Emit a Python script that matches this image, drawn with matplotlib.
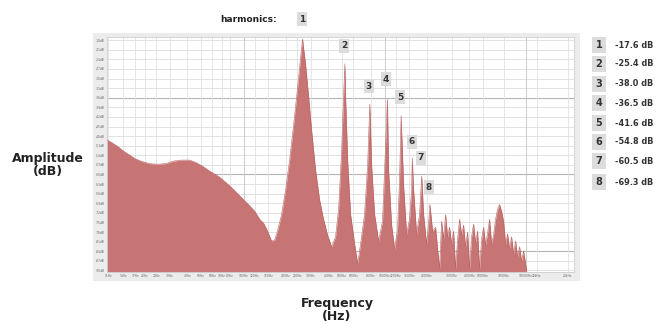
import matplotlib
matplotlib.use("Agg")
import matplotlib.pyplot as plt
from matplotlib.patches import Rectangle

# ---- data ----
freq_hz = [10.7, 11.6, 12.8, 13.9, 15.3, 16.9, 18.9, 21.5, 24.5, 28.0, 31.9, 36.3, 41.4, 45.7,
           51.2, 57.4, 67.6, 79.6, 93.7, 106.7, 120, 130, 138.6, 148, 157.9, 166, 174, 186,
           198.6, 212, 226, 238, 250, 258, 262, 266, 275, 289, 304, 324, 346, 369, 394, 421,
           449, 472, 496, 512, 523, 529, 547, 574, 613, 644, 676, 721, 758, 786, 809, 850,
           907, 967, 1000, 1048, 1068, 1121, 1178, 1236, 1277, 1310, 1364, 1432, 1504, 1554,
           1572, 1606, 1687, 1770, 1834, 1891, 1986, 2050, 2096, 2190,
           2300, 2376, 2455, 2537, 2620, 2708, 2798, 2890, 2987, 3086, 3188, 3294, 3403, 3516,
           3633, 3754, 3879, 4007, 4140, 4278, 4420, 4567, 4719, 4875, 5036, 5204, 5377, 5556,
           5740, 5930, 6124, 6330, 6540, 6757, 6982, 7214, 7453, 7700, 7956, 8221, 8492, 8776,
           9067, 9368, 9679, 10000, 10170]
level_db = [-49.1, -50.0, -51.2, -52.5, -53.7, -55.0, -55.9, -56.6, -56.8, -56.6, -55.8, -55.5,
            -55.5, -56.2, -57.4, -58.9, -60.8, -63.5, -66.6, -69.1, -71.5, -74.0, -75.2, -77.7,
            -80.8, -80.5, -77.7, -72.5, -64.8, -55.6, -44.8, -35.5, -26.3, -20.2, -17.6, -20.2,
            -25.4, -35.5, -46.3, -58.6, -67.9, -74.0, -78.9, -82.6, -79.5, -70.9, -52.5, -35.5,
            -25.4, -35.5, -55.5, -72.5, -81.7, -87.9, -81.7, -72.5, -57.1, -38.0, -57.1, -72.5,
            -80.8, -74.6, -58.6, -36.5, -58.6, -75.6, -83.3, -77.1, -61.7, -41.6, -63.3, -78.6,
            -74.0, -64.8, -54.8, -64.8, -78.6, -72.5, -60.5, -72.5, -81.7, -75.6, -69.3, -77.7,
            -76.5, -83.2, -89.4, -74.6, -80.2, -72.5, -79.5, -76.5, -81.7, -77.7, -89.4, -80.2,
            -74.0, -78.9, -75.8, -82.6, -78.0, -89.4, -79.5, -75.5, -81.4, -77.7, -89.4, -80.2,
            -76.5, -82.0, -78.3, -74.0, -81.7, -78.9, -74.0, -70.9, -69.4, -71.5, -74.6, -81.7,
            -78.6, -83.2, -79.5, -84.8, -80.8, -85.8, -82.6, -87.0, -83.9, -87.9, -90.0]

harm_ids = ["1", "2", "3", "4", "5", "6", "7", "8"]
harm_db = [-17.6, -25.4, -38.0, -36.5, -41.6, -54.8, -60.5, -69.3]

x_ticks = [11, 14, 17, 20, 24, 30, 40, 50, 60, 70, 80, 100, 120, 150, 200, 240, 300, 400,
           500, 600, 800, 1000, 1200, 1500, 2000, 3000, 4000, 5000, 7000, 10000, 12000, 20000]
x_labels = ["11Hz", "14Hz", "17Hz", "20Hz", "24Hz", "30Hz", "40Hz", "50Hz", "60Hz", "70Hz",
            "80Hz", "100Hz", "120Hz", "150Hz", "200Hz", "240Hz", "300Hz", "400Hz", "500Hz",
            "600Hz", "800Hz", "1000Hz", "1200Hz", "1500Hz", "2000Hz", "3000Hz", "4000Hz",
            "5000Hz", "7000Hz", "10000Hz", "12kHz", "20kHz"]
y_ticks = list(range(-18, -91, -3))
y_labels = [f"{v}dB" for v in y_ticks]

W, H = 656, 324
fig = plt.figure(figsize=(W / 100, H / 100), dpi=100)
fig.patch.set_facecolor("white")

# gray panel behind the plot
fig.patches.append(Rectangle((93 / W, 1 - 281 / H), (580 - 93) / W, (281 - 33) / H,
                             transform=fig.transFigure, facecolor="#ececec",
                             edgecolor="none", zorder=-5))

ax = fig.add_axes([106.7 / W, 1 - 272 / H, (574 - 106.7) / W, (272 - 37) / H])
ax.set_zorder(2)
ax.set_facecolor("white")
ax.set_xscale("log")
ax.set_xlim(10.7, 22050)
ax.set_ylim(-90.5, -17.0)

# grid
for v in y_ticks:
    dark = v in (-36, -60, -84)
    ax.axhline(v, color="#b4b4b4" if dark else "#dcdcdc", lw=0.8 if dark else 0.6, zorder=1)
for f in x_ticks:
    dark = f in (100, 1000, 10000)
    ax.axvline(f, color="#c4c4c4" if dark else "#e0e0e0", lw=0.6, zorder=1)

ax.fill_between(freq_hz, level_db, -90.5, color="#c67474", lw=0, zorder=2)
ax.plot(freq_hz, level_db, color="#bb6262", lw=0.4, zorder=3)

ax.set_xticks(x_ticks)
ax.set_xticklabels(x_labels)
ax.set_xticks([], minor=True)
ax.set_yticks(y_ticks)
ax.set_yticklabels(y_labels)
ax.tick_params(axis="both", length=0, labelsize=2.2, colors="#666666", pad=1.5)
for s in ax.spines.values():
    s.set_color("#cfcfcf")
    s.set_linewidth(0.6)

# harmonic labels inside plot
box = dict(boxstyle="square,pad=0.25", facecolor="#dcdcdc", edgecolor="none")
harm_label_pos = {"2": (344, 46), "3": (369, 86), "4": (386, 79), "5": (400, 97),
                  "6": (412, 142), "7": (421, 158), "8": (429, 187)}
for k, (px, py) in harm_label_pos.items():
    fig.text(px / W, 1 - py / H, k, ha="center", va="center", fontsize=6.5,
             fontweight="bold", color="#333333", bbox=box, zorder=10)

fig.text(249 / W, 1 - 19 / H, "harmonics:", ha="center", va="center", fontsize=6.5,
         fontweight="bold", color="#222222")
fig.text(302 / W, 1 - 19 / H, "1", ha="center", va="center", fontsize=6.5,
         fontweight="bold", color="#333333", bbox=box)

# right legend
row_y = [45, 64, 84, 103, 123, 142, 161, 182]
for hid, db, ry in zip(harm_ids, harm_db, row_y):
    fig.text(599 / W, 1 - ry / H, hid, ha="center", va="center", fontsize=7,
             fontweight="bold", color="#333333",
             bbox=dict(boxstyle="square,pad=0.35", facecolor="#dcdcdc", edgecolor="none"))
    fig.text(615 / W, 1 - ry / H, f"{db:.1f} dB", ha="left", va="center", fontsize=5.9,
             fontweight="bold", color="#333333")

fig.text(48 / W, 1 - 165 / H, "Amplitude\n(dB)", ha="center", va="center", fontsize=9,
         fontweight="bold", color="#222222", linespacing=1.0)
fig.text(337 / W, 1 - 310 / H, "Frequency\n(Hz)", ha="center", va="center", fontsize=9,
         fontweight="bold", color="#222222", linespacing=1.0)

fig.savefig("out.png", dpi=100)
